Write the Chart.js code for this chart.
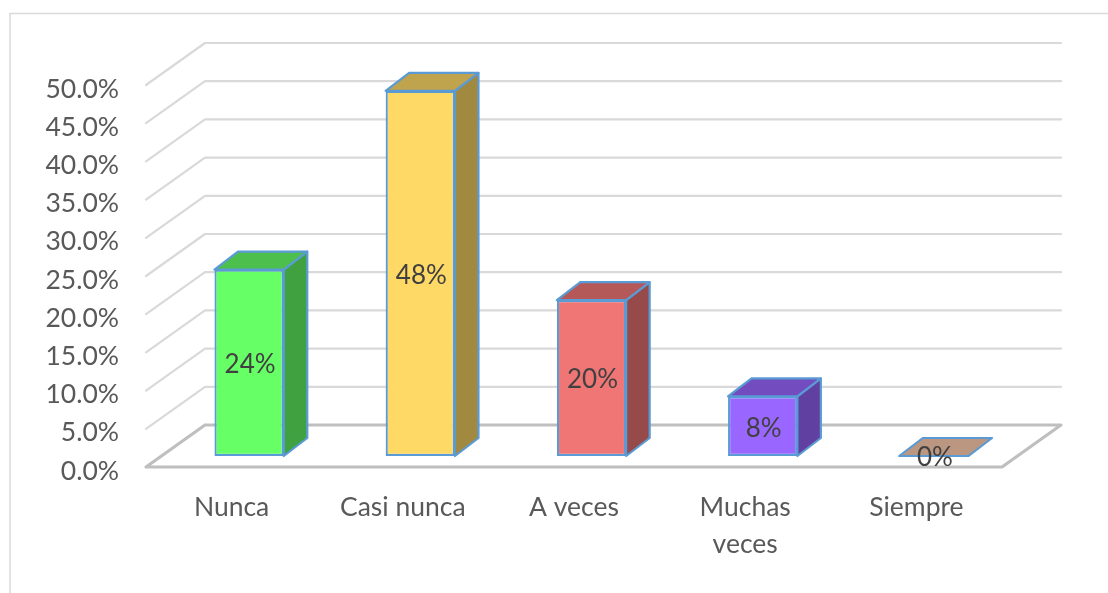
<!DOCTYPE html>
<html>
<head>
<meta charset="utf-8">
<style>
  html, body { margin: 0; padding: 0; background: #fff; }
  canvas { display: block; }
</style>
<script src="https://cdn.jsdelivr.net/npm/chart.js@4/dist/chart.umd.min.js"></script>
</head>
<body>
<canvas id="myChart" width="1108" height="593"></canvas>
<script>
var categories = ['Nunca', 'Casi nunca', 'A veces', ['Muchas', 'veces'], 'Siempre'];
var percentages = [24.4, 47.8, 20.4, 7.8, 0];
var barColors = ['#66ff66', '#ffd966', '#f07575', '#9966ff', '#f9c8aa'];

var FONT = 'Lato, sans-serif';
var EDGE = '#5b9bd5';
// offset of the back wall from the front of the floor
var wallX = 59, wallY = -42;
// bars stand a little way into the floor
var barX = 17.5, barY = -11;
// depth of each bar
var depthX = 23.5, depthY = -18;

function shade(hex, f) {
    var n = parseInt(hex.slice(1), 16);
    var r = Math.round((n >> 16 & 255) * f);
    var g = Math.round((n >> 8 & 255) * f);
    var b = Math.round((n & 255) * f);
    return 'rgb(' + r + ',' + g + ',' + b + ')';
}

function poly(ctx, pts, fill) {
    ctx.beginPath();
    pts.forEach(function (p, i) {
        if (i === 0) ctx.moveTo(p[0], p[1]);
        else ctx.lineTo(p[0], p[1]);
    });
    ctx.closePath();
    ctx.fillStyle = fill;
    ctx.fill();
    ctx.stroke();
}

var box3d = {
    id: 'box3d',
    beforeDraw: function (chart) {
        // the thin frame of the chart, only left and top are in the picture
        var ctx = chart.ctx;
        ctx.save();
        ctx.strokeStyle = '#d9d9d9';
        ctx.lineWidth = 1.5;
        ctx.beginPath();
        ctx.moveTo(10, 593);
        ctx.lineTo(10, 13.5);
        ctx.lineTo(1108, 13.5);
        ctx.stroke();
        ctx.restore();
    },
    beforeDatasetsDraw: function (chart) {
        var ctx = chart.ctx, a = chart.chartArea, y = chart.scales.y;
        ctx.save();
        ctx.lineCap = 'round';
        ctx.lineJoin = 'round';
        // walls
        ctx.strokeStyle = '#d9d9d9';
        ctx.lineWidth = 2.2;
        y.ticks.forEach(function (t) {
            if (t.value === 0) return;
            var py = y.getPixelForValue(t.value);
            ctx.beginPath();
            ctx.moveTo(a.left, py);
            ctx.lineTo(a.left + wallX, py + wallY);
            ctx.lineTo(a.right + wallX, py + wallY);
            ctx.stroke();
        });
        // floor
        var y0 = y.getPixelForValue(0);
        ctx.strokeStyle = '#bfbfbf';
        ctx.lineWidth = 3.2;
        ctx.beginPath();
        ctx.moveTo(a.left, y0);
        ctx.lineTo(a.right, y0);
        ctx.lineTo(a.right + wallX, y0 + wallY);
        ctx.lineTo(a.left + wallX, y0 + wallY);
        ctx.closePath();
        ctx.stroke();
        ctx.restore();

        // the front faces are drawn by the chart itself, moved into the floor
        ctx.save();
        ctx.translate(barX, barY);
    },
    afterDatasetsDraw: function (chart) {
        var ctx = chart.ctx;
        var bars = chart.getDatasetMeta(0).data;
        ctx.lineWidth = 2.2;
        ctx.lineJoin = 'round';
        ctx.strokeStyle = EDGE;
        bars.forEach(function (bar, i) {
            var l = bar.x - bar.width / 2, r = bar.x + bar.width / 2;
            var t = bar.y, b = bar.base;
            if (b - t > 0.5) {
                poly(ctx, [[r, t], [r + depthX, t + depthY], [r + depthX, b + depthY], [r, b]], shade(barColors[i], 0.63));
            }
            poly(ctx, [[l, t], [r, t], [r + depthX, t + depthY], [l + depthX, t + depthY]], shade(barColors[i], 0.75));
        });
        ctx.restore();

        // value labels on top of everything
        ctx.save();
        ctx.font = '26px ' + FONT;
        ctx.fillStyle = '#404040';
        ctx.textAlign = 'center';
        ctx.textBaseline = 'middle';
        bars.forEach(function (bar, i) {
            var cy = (bar.y + bar.base) / 2 + barY;
            ctx.fillText(percentages[i].toFixed(0) + '%', bar.x + barX + 1, cy + 2);
        });
        ctx.restore();
    }
};

var chart = new Chart(document.getElementById('myChart').getContext('2d'), {
    type: 'bar',
    data: {
        labels: categories,
        datasets: [{
            data: percentages,
            backgroundColor: barColors,
            borderColor: EDGE,
            borderWidth: 2.2,
            borderSkipped: false,
            barPercentage: 1,
            categoryPercentage: 0.405,
            clip: false
        }]
    },
    options: {
        responsive: false,
        animation: false,
        layout: { padding: { top: 85, right: 106, left: 0, bottom: 0 } },
        plugins: { legend: { display: false }, tooltip: { enabled: false } },
        scales: {
            x: {
                grid: { display: false, drawTicks: false },
                border: { display: false },
                afterFit: function (s) { s.height = 593 - 467; },
                ticks: {
                    color: '#595959',
                    font: { family: FONT, size: 26.5, lineHeight: 1.4 },
                    padding: 22,
                    maxRotation: 0
                }
            },
            y: {
                min: 0,
                max: 50,
                grid: { display: false, drawTicks: false },
                border: { display: false },
                afterFit: function (s) { s.width = 146; },
                ticks: {
                    stepSize: 5,
                    color: '#595959',
                    font: { family: FONT, size: 26.5 },
                    padding: 27,
                    labelOffset: 4,
                    callback: function (v) { return v.toFixed(1) + '%'; }
                }
            }
        }
    },
    plugins: [box3d]
});
</script>
</body>
</html>
